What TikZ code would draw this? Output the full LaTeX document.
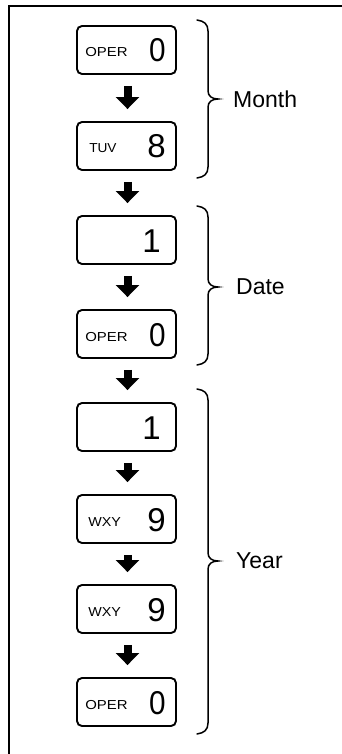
\documentclass[tikz,border=0pt]{standalone}
\usepackage{fontspec}
\setmainfont{Liberation Sans}
\usetikzlibrary{arrows.meta}
\begin{document}
\begin{tikzpicture}[x=1pt,y=-1pt,
  keybox/.style={draw, line width=1.9pt, rounded corners=5pt, minimum width=99pt, minimum height=48pt, inner sep=0pt},
  keylabel/.style={inner sep=0pt, anchor=base west, font=\fontsize{13}{13}\selectfont},
  keydigit/.style={inner sep=0pt, anchor=base east, font=\fontsize{33}{33}\selectfont},
  flowarrow/.style={line width=8pt, -{Triangle[width=23pt,length=12pt]}},
  bracestyle/.style={line width=1.5pt, line cap=round},
  grouplabel/.style={inner sep=0pt, anchor=west, font=\fontsize{23}{23}\selectfont}]
\useasboundingbox (0,0) rectangle (342,754);
\fill[white] (0,0) rectangle (342,754);
% frame
\draw[line width=1.5pt] (342,6) -- (9,6) -- (9,754);
% boxes
\node[keybox] (b1) at (126.5,50) {};
\node[keybox] (b2) at (126.5,146) {};
\node[keybox] (b3) at (126.5,240) {};
\node[keybox] (b4) at (126.5,334) {};
\node[keybox] (b5) at (126.5,427) {};
\node[keybox] (b6) at (126.5,519) {};
\node[keybox] (b7) at (126.5,609) {};
\node[keybox] (b8) at (126.5,702) {};
% small labels
\node[keylabel] (l1) at ([xshift=9pt,yshift=-7pt]b1.west) {\scalebox{1.15}[1]{OPER}};
\node[keylabel] (l2) at ([xshift=13pt,yshift=-7pt]b2.west) {\scalebox{1.05}[1]{TUV}};
\node[keylabel] (l4) at ([xshift=9pt,yshift=-7pt]b4.west) {\scalebox{1.15}[1]{OPER}};
\node[keylabel] (l6) at ([xshift=12pt,yshift=-7pt]b6.west) {\scalebox{1.1}[1]{WXY}};
\node[keylabel] (l7) at ([xshift=12pt,yshift=-7pt]b7.west) {\scalebox{1.1}[1]{WXY}};
\node[keylabel] (l8) at ([xshift=9pt,yshift=-7pt]b8.west) {\scalebox{1.15}[1]{OPER}};
% digits
\node[keydigit] (d1) at ([xshift=-11pt,yshift=-12pt]b1.east) {\scalebox{0.9}[1]{0}};
\node[keydigit] (d2) at ([xshift=-11pt,yshift=-12pt]b2.east) {8};
\node[keydigit] (d3) at ([xshift=-16pt,yshift=-12pt]b3.east) {1};
\node[keydigit] (d4) at ([xshift=-11pt,yshift=-12pt]b4.east) {\scalebox{0.9}[1]{0}};
\node[keydigit] (d5) at ([xshift=-16pt,yshift=-12pt]b5.east) {1};
\node[keydigit] (d6) at ([xshift=-11pt,yshift=-12pt]b6.east) {9};
\node[keydigit] (d7) at ([xshift=-11pt,yshift=-12pt]b7.east) {9};
\node[keydigit] (d8) at ([xshift=-11pt,yshift=-12pt]b8.east) {\scalebox{0.9}[1]{0}};
% arrows
\foreach \a/\b in {b1/b2,b2/b3,b3/b4,b4/b5,b5/b6,b6/b7,b7/b8}
  \draw[flowarrow] ([xshift=1pt,yshift=-11pt]\a.south) -- ([xshift=1pt,yshift=12pt]\b.north);
% braces
\draw[bracestyle] (197,20) .. controls (204,21) and (208,24) .. (208,31) -- (208,91)
  .. controls (208,96) and (212,99) .. (218,99) .. controls (212,99) and (208,102) .. (208,107)
  -- (208,167) .. controls (208,174) and (204,177) .. (197,178);
\draw[bracestyle] (197,206) .. controls (204,207) and (208,210) .. (208,217) -- (208,279)
  .. controls (208,284) and (212,287) .. (218,287) .. controls (212,287) and (208,290) .. (208,295)
  -- (208,354) .. controls (208,361) and (204,364) .. (197,365);
\draw[bracestyle] (197,389) .. controls (204,390) and (208,393) .. (208,400) -- (208,553)
  .. controls (208,558) and (212,561) .. (218,561) .. controls (212,561) and (208,564) .. (208,569)
  -- (208,723) .. controls (208,730) and (204,733) .. (197,734);
% group labels
\node[grouplabel] (month) at (233,99) {Month};
\node[grouplabel] (date) at (236,287) {Date};
\node[grouplabel] (year) at (236,561) {Year};
\end{tikzpicture}
\end{document}
